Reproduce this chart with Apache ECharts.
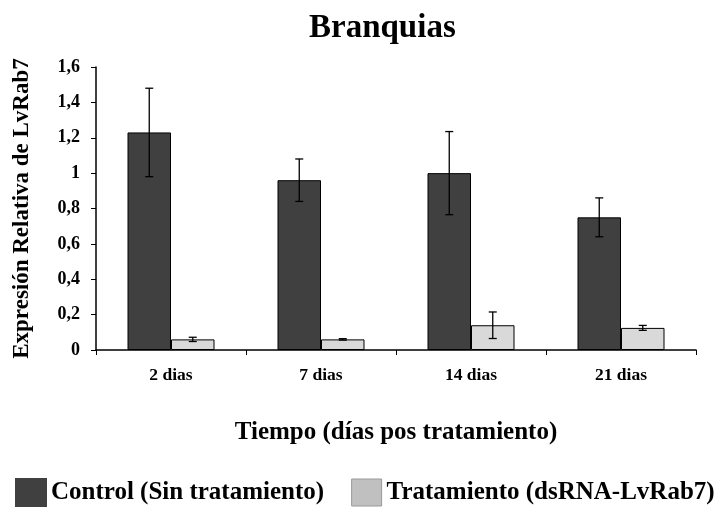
<!DOCTYPE html>
<html>
<head>
<meta charset="utf-8">
<script src="https://cdn.jsdelivr.net/npm/echarts@6/dist/echarts.min.js"></script>
<style>
  html, body { margin: 0; padding: 0; background: #fff; }
  #chart { width: 719px; height: 508px; }
</style>
</head>
<body>
<div id="chart"></div>
<script>
const categories = ['2 dias', '7 dias', '14 dias', '21 dias'];
const controlValues = [1.23, 0.96, 1.0, 0.75];
const controlErrors = [0.25, 0.12, 0.235, 0.11];
const treatValues = [0.06, 0.06, 0.14, 0.125];
const treatErrors = [0.012, 0.004, 0.075, 0.014];
const yTicks = [0, 0.2, 0.4, 0.6, 0.8, 1, 1.2, 1.4, 1.6];

const FONT = '"Liberation Serif", "Times New Roman", serif';
const BAR_RATIO = 0.29;

const chart = echarts.init(document.getElementById('chart'));

// error bar drawn next to each bar; side = -1 for control, +1 for treatment
function errorBars(values, errors, side) {
  return {
    type: 'custom',
    z: 10,
    silent: true,
    data: values.map((v, i) => [i, v, errors[i]]),
    renderItem: function (params, api) {
      const i = api.value(0);
      const v = api.value(1);
      const e = api.value(2);
      const band = api.size([1, 0])[0];
      const dx = side * band * BAR_RATIO / 2;
      const top = api.coord([i, v + e]);
      const bot = api.coord([i, v - e]);
      const x = top[0] + dx;
      const cap = 4;
      const style = { stroke: '#000', lineWidth: 1.3 };
      return {
        type: 'group',
        children: [
          { type: 'line', shape: { x1: x, y1: top[1], x2: x, y2: bot[1] }, style: style },
          { type: 'line', shape: { x1: x - cap, y1: top[1], x2: x + cap, y2: top[1] }, style: style },
          { type: 'line', shape: { x1: x - cap, y1: bot[1], x2: x + cap, y2: bot[1] }, style: style }
        ]
      };
    }
  };
}

chart.setOption({
  backgroundColor: '#fff',
  animation: false,
  title: {
    text: 'Branquias',
    left: 304,
    top: 7,
    textStyle: { fontFamily: FONT, fontWeight: 'bold', fontSize: 33, color: '#000' }
  },
  legend: {
    top: 478,
    left: 15,
    padding: 0,
    icon: 'rect',
    itemWidth: 30,
    itemHeight: 27,
    itemGap: 27,
    textStyle: { fontFamily: FONT, fontWeight: 'bold', fontSize: 25, color: '#000' },
    data: [
      { name: 'Control (Sin tratamiento)', itemStyle: { color: '#404040', borderColor: '#404040' } },
      { name: 'Tratamiento (dsRNA-LvRab7)', itemStyle: { color: '#c0c0c0', borderColor: '#999', borderWidth: 1 } }
    ]
  },
  grid: { left: 96, right: 23, top: 67, bottom: 158, containLabel: false },
  xAxis: {
    type: 'category',
    data: categories,
    name: 'Tiempo (días pos tratamiento)',
    nameLocation: 'middle',
    nameGap: 70,
    nameTextStyle: { fontFamily: FONT, fontWeight: 'bold', fontSize: 25, color: '#000' },
    axisLine: { lineStyle: { color: '#000', width: 1.5 } },
    axisTick: { show: true, length: 5, lineStyle: { color: '#000' } },
    axisLabel: { fontFamily: FONT, fontWeight: 'bold', fontSize: 17.5, color: '#000', margin: 16 }
  },
  yAxis: {
    type: 'value',
    min: 0,
    max: 1.6,
    interval: 0.2,
    name: 'Expresión Relativa de LvRab7',
    nameLocation: 'middle',
    nameGap: 62,
    nameTextStyle: { fontFamily: FONT, fontWeight: 'bold', fontSize: 23, color: '#000' },
    splitLine: { show: false },
    axisLine: { show: true, lineStyle: { color: '#000', width: 1.5 } },
    axisTick: { show: true, length: 5, lineStyle: { color: '#000' } },
    axisLabel: {
      fontFamily: FONT, fontWeight: 'bold', fontSize: 18, color: '#000', margin: 16,
      customValues: yTicks,
      formatter: v => String(Math.round(v * 10) / 10).replace('.', ',')
    }
  },
  series: [
    {
      name: 'Control (Sin tratamiento)',
      type: 'bar',
      data: controlValues,
      barWidth: (BAR_RATIO * 100) + '%',
      barGap: '0%',
      itemStyle: { color: '#404040', borderColor: '#000', borderWidth: 1 }
    },
    {
      name: 'Tratamiento (dsRNA-LvRab7)',
      type: 'bar',
      data: treatValues,
      barWidth: (BAR_RATIO * 100) + '%',
      barGap: '0%',
      itemStyle: { color: '#d9d9d9', borderColor: '#000', borderWidth: 1 }
    },
    errorBars(controlValues, controlErrors, -1),
    errorBars(treatValues, treatErrors, 1)
  ]
});
</script>
</body>
</html>
